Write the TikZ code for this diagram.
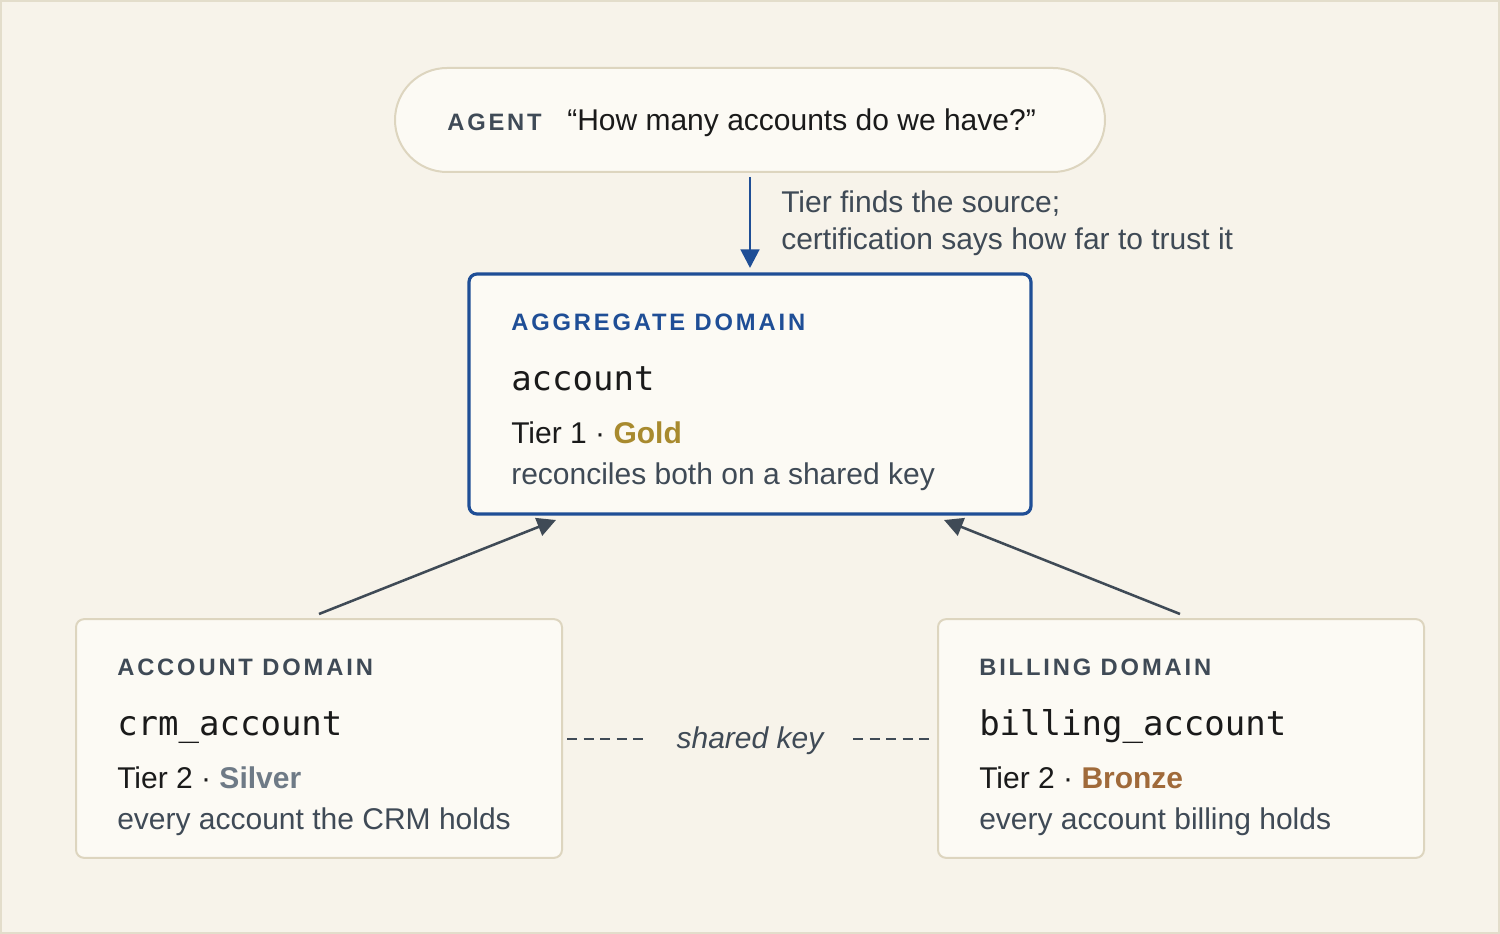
\documentclass[tikz,border=0pt]{standalone}
\usepackage{fontspec}
\setmainfont{Liberation Sans}
\setmonofont{DejaVu Sans Mono}
\newfontfamily\headfont[LetterSpace=12]{Liberation Sans}
\usetikzlibrary{arrows.meta}
\definecolor{bgc}{HTML}{F7F3EA}
\definecolor{bgline}{HTML}{E3DDCB}
\definecolor{boxfill}{HTML}{FCFAF4}
\definecolor{boxline}{HTML}{DDD5BF}
\definecolor{bluec}{HTML}{1F4E96}
\definecolor{inkc}{HTML}{1A1A1A}
\definecolor{grayc}{HTML}{3F4A56}
\definecolor{goldc}{HTML}{A88A2E}
\definecolor{silverc}{HTML}{6E7A86}
\definecolor{bronzec}{HTML}{A06A3A}
\tikzset{
  box/.style={draw=boxline, line width=1.5pt, fill=boxfill, rounded corners=6pt, inner sep=0pt},
  aggbox/.style={draw=bluec, line width=2.4pt, fill=boxfill, rounded corners=6pt, inner sep=0pt},
  txt/.style={anchor=base west, inner sep=0pt, font=\fontsize{22.5}{26}\selectfont, text=inkc},
  sub/.style={txt, text=grayc},
  head/.style={anchor=base west, inner sep=0pt, font=\headfont\bfseries\fontsize{17.8}{20}\selectfont, text=grayc},
  code/.style={anchor=base west, inner sep=0pt, font=\ttfamily\fontsize{25.5}{28}\selectfont, text=inkc},
  tip/.style={-{Triangle[length=14pt, width=14pt]}},
  conn/.style={draw=grayc, line width=1.9pt, tip},
  dashln/.style={draw=grayc, line width=1.6pt, dash pattern=on 7.5pt off 4.9pt},
}
\begin{document}
\begin{tikzpicture}[x=0.75pt,y=-0.75pt]
\path[use as bounding box] (0,0) rectangle (1500,934);
\fill[bgc] (0,0) rectangle (1500,934);
\draw[bgline, line width=1.5pt] (1,1) rectangle (1499,933);

% agent pill
\node[box, rounded corners=39pt, minimum width=532.5pt, minimum height=78pt] (agent) at (750,120) {};
\node[head] (agentlbl) at (447,131) {AGENT};
\node[txt] (question) at (567,131) {“How many accounts do we have?”};

% aggregate
\node[aggbox, minimum width=421.5pt, minimum height=180pt] (agg) at (750,394) {};
\node[head, text=bluec] (agghead) at (511,330) {AGGREGATE DOMAIN};
\node[code] (aggcode) at (511,390) {account};
\node[txt] (aggtier) at (511,443) {Tier 1 · \textcolor{goldc}{\bfseries Gold}};
\node[sub] (aggdesc) at (511,484) {reconciles both on a shared key};

% account
\node[box, minimum width=364.5pt, minimum height=179pt] (acc) at (319,738.5) {};
\node[head] (acchead) at (117,675) {ACCOUNT DOMAIN};
\node[code] (acccode) at (117,735) {crm\_account};
\node[txt] (acctier) at (117,788) {Tier 2 · \textcolor{silverc}{\bfseries Silver}};
\node[sub] (accdesc) at (117,829) {every account the CRM holds};

% billing
\node[box, minimum width=364.5pt, minimum height=179pt] (bill) at (1181,738.5) {};
\node[head] (billhead) at (979,675) {BILLING DOMAIN};
\node[code] (billcode) at (979,735) {billing\_account};
\node[txt] (billtier) at (979,788) {Tier 2 · \textcolor{bronzec}{\bfseries Bronze}};
\node[sub] (billdesc) at (979,829) {every account billing holds};

% agent -> aggregate
\coordinate (a1) at (750,177);
\coordinate (a2) at (750,268);
\draw[bluec, line width=2.2pt, tip] (a1) -- (a2);
\node[sub] (note1) at (781,213) {Tier finds the source;};
\node[sub] (note2) at (781,250) {certification says how far to trust it};

% sources -> aggregate
\coordinate (l1) at (319,614);
\coordinate (l2) at (556,520);
\coordinate (r1) at (1180,614);
\coordinate (r2) at (944,520);
\draw[conn] (l1) -- (l2);
\draw[conn] (r1) -- (r2);

% shared key
\node[sub, anchor=base, font=\itshape\fontsize{22.5}{26}\selectfont] (shared) at (750,748) {shared key};
\coordinate (d1) at (567,739);
\coordinate (d2) at (644,739);
\coordinate (d3) at (853,739);
\coordinate (d4) at (931,739);
\draw[dashln] (d1) -- (d2);
\draw[dashln] (d3) -- (d4);
\end{tikzpicture}
\end{document}
